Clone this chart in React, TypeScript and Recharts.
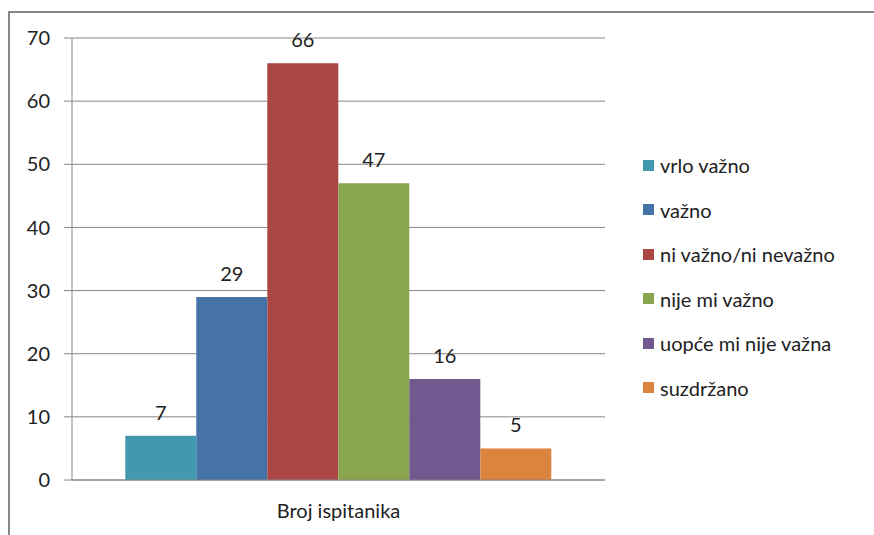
import { BarChart, Bar, XAxis, YAxis, CartesianGrid, Legend, LabelList } from "recharts";

const category = "Broj ispitanika";
const seriesNames = [
  "vrlo važno",
  "važno",
  "ni važno/ni nevažno",
  "nije mi važno",
  "uopće mi nije važna",
  "suzdržano",
];
const seriesValues = [7, 29, 66, 47, 16, 5];
const seriesColors = ["#4198AF", "#4572A7", "#AA4643", "#89A54E", "#71588F", "#DB843D"];
const yTicks = [0, 10, 20, 30, 40, 50, 60, 70];

const keys = seriesNames.map((_, i) => "s" + i);
const row: Record<string, string | number> = { name: category };
keys.forEach((k, i) => {
  row[k] = seriesValues[i];
});
const data = [row];

const font = "Lato, 'Open Sans', sans-serif";

function LegendBox() {
  return (
    <div style={{ fontFamily: font, fontSize: 20, color: "#222" }}>
      {seriesNames.map((n, i) => (
        <div key={n} style={{ display: "flex", alignItems: "center", height: 44.5 }}>
          <span style={{ width: 11, height: 11, background: seriesColors[i], marginRight: 6 }} />
          <span>{n}</span>
        </div>
      ))}
    </div>
  );
}

export default function App() {
  return (
    <div style={{ position: "absolute", left: 0, top: 0, width: 874, height: 535, background: "#fff", overflow: "hidden" }}>
      <div
        style={{
          position: "absolute",
          left: 8,
          top: 11,
          width: 900,
          height: 600,
          borderLeft: "2px solid #868686",
          borderTop: "2px solid #868686",
        }}
      />
      <BarChart
        width={874}
        height={535}
        data={data}
        margin={{ top: 38, right: 39, left: 0, bottom: 25 }}
        barCategoryGap="10%"
        barGap={0}
        style={{ position: "absolute", left: 0, top: 0 }}
      >
        <CartesianGrid vertical={false} stroke="#868686" />
        <XAxis
          dataKey="name"
          stroke="#868686"
          tickLine={false}
          tickMargin={18}
          tick={{ fill: "#222", fontSize: 20, fontFamily: font }}
        />
        <YAxis
          width={72}
          domain={[0, 70]}
          ticks={yTicks}
          stroke="#868686"
          tickSize={8}
          tickMargin={14}
          tick={{ fill: "#222", fontSize: 20, fontFamily: font }}
        />
        <Legend
          layout="vertical"
          align="right"
          verticalAlign="top"
          content={() => <LegendBox />}
          wrapperStyle={{ left: 643, top: 143, width: 230 }}
        />
        {keys.map((k, i) => (
          <Bar key={k} dataKey={k} name={seriesNames[i]} fill={seriesColors[i]} isAnimationActive={false}>
            <LabelList
              dataKey={k}
              position="top"
              offset={16}
              style={{ fill: "#222", fontSize: 20, fontFamily: font }}
            />
          </Bar>
        ))}
      </BarChart>
    </div>
  );
}
